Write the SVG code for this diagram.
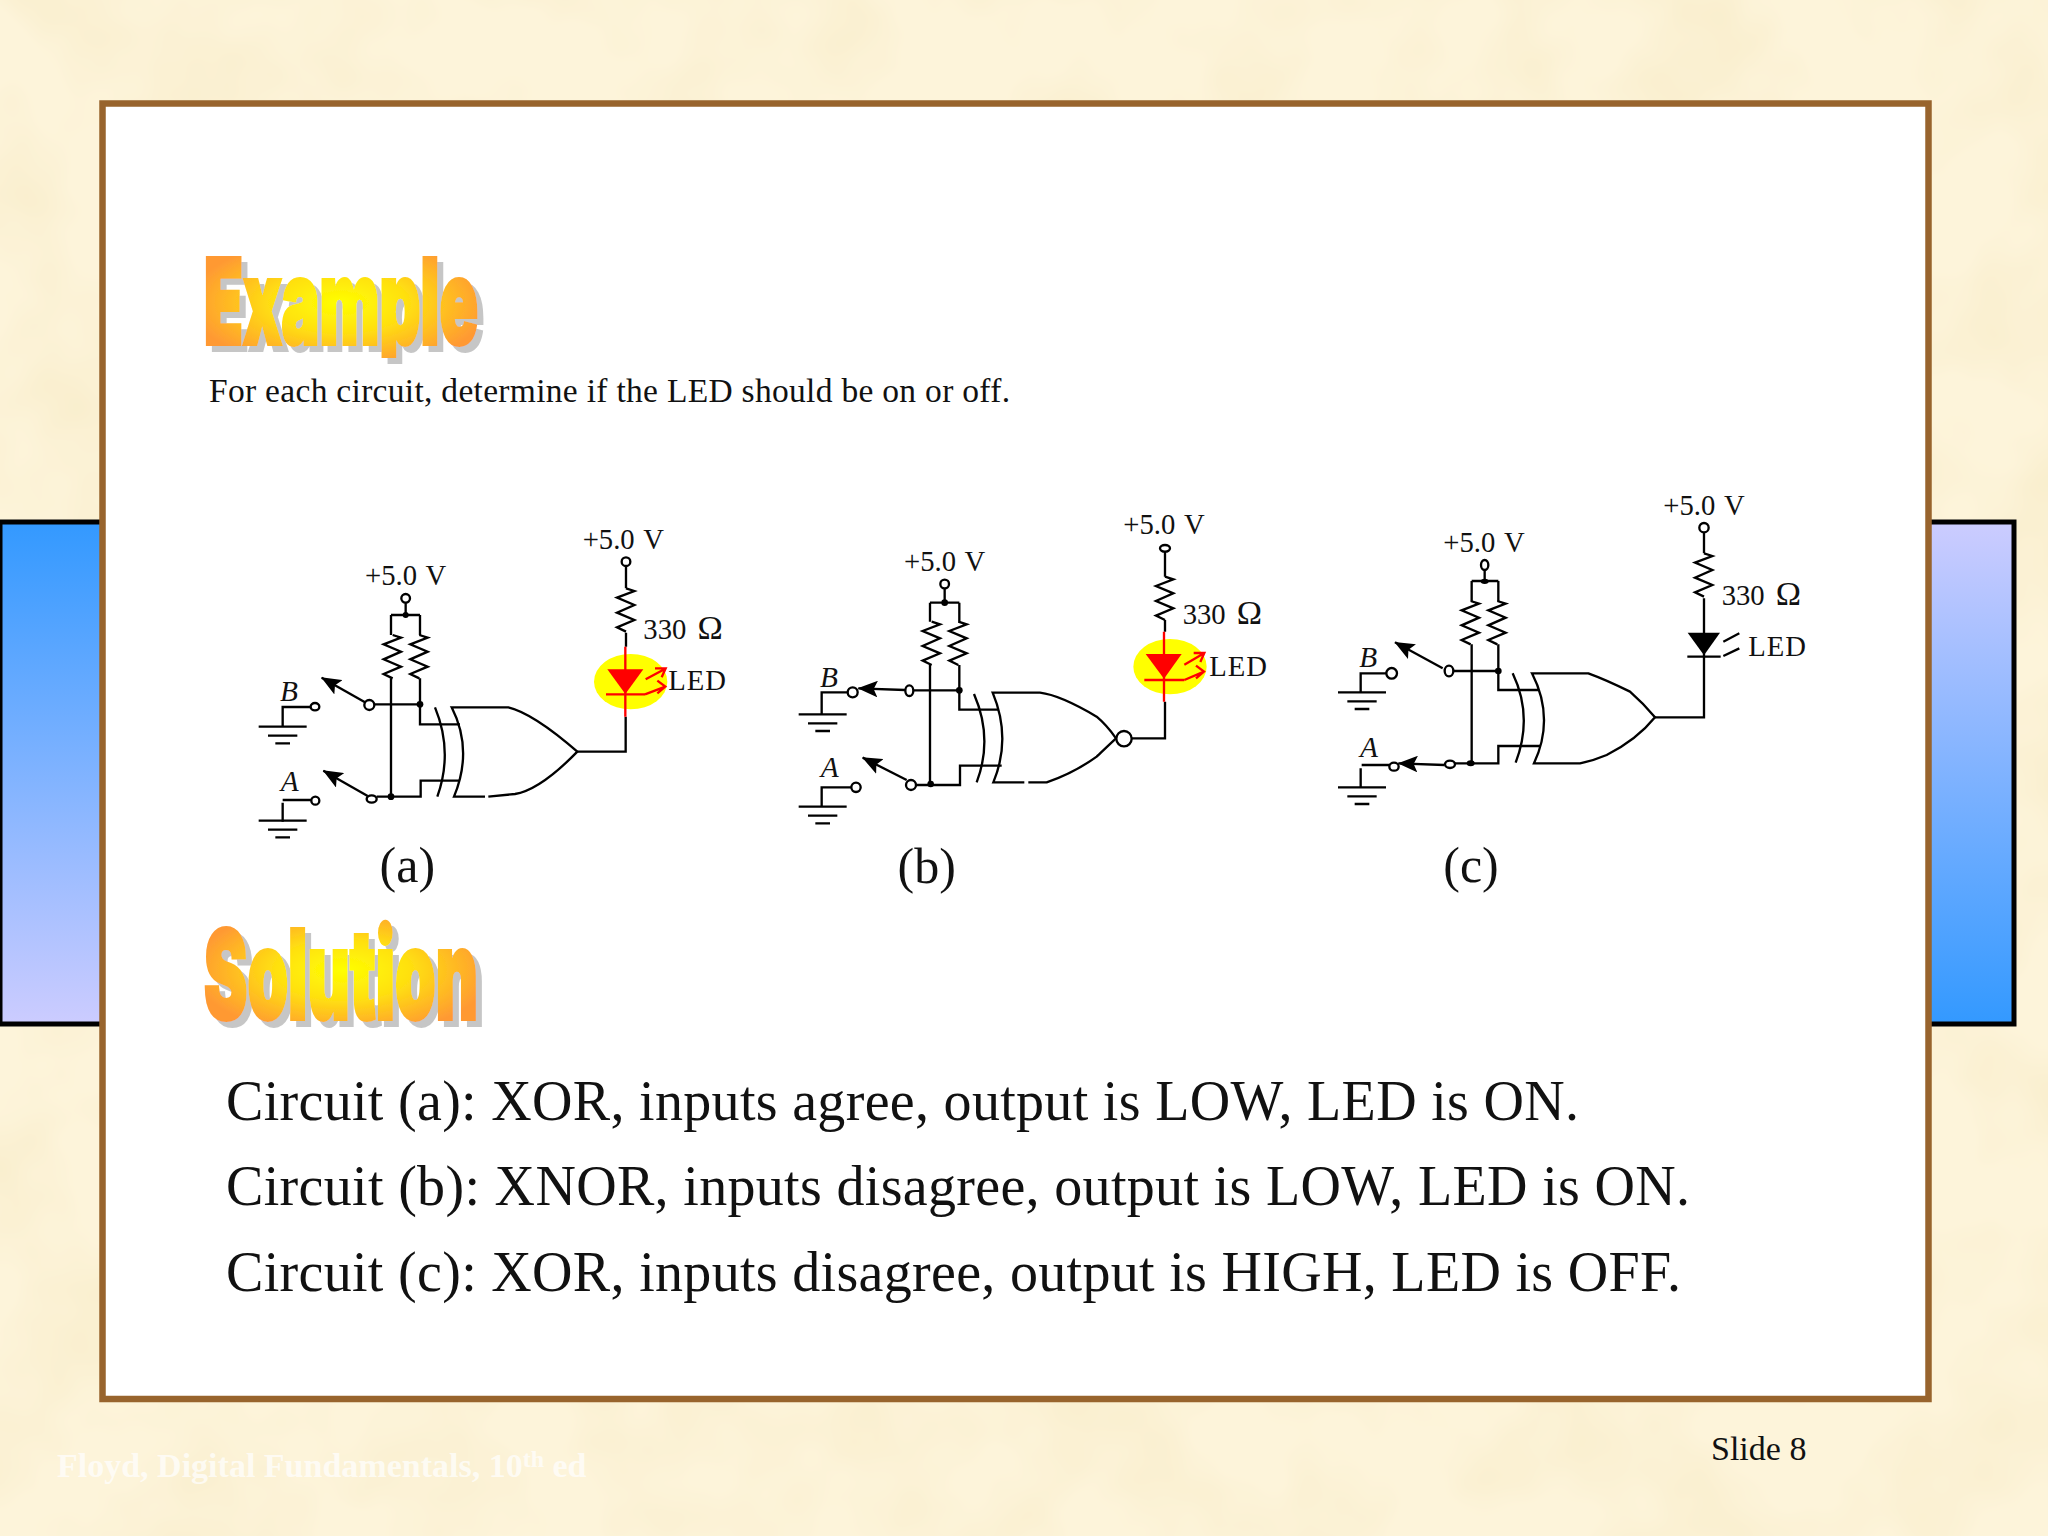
<svg xmlns="http://www.w3.org/2000/svg" width="2048" height="1536" viewBox="0 0 2048 1536">
<style>
.s{font-family:"Liberation Serif","Times New Roman",serif}
.w{fill:none;stroke:#000;stroke-width:7;stroke-linejoin:miter}
.r{fill:none;stroke:#f00;stroke-width:7}
.o{fill:#fff;stroke:#000;stroke-width:7}
.t{font-family:"Liberation Serif","Times New Roman",serif;font-size:86px;fill:#111}
.v{word-spacing:6px}
.i{font-family:"Liberation Serif","Times New Roman",serif;font-size:88px;font-style:italic;fill:#111}
.om{font-size:102px;font-family:"Liberation Serif","Times New Roman",serif}
.cap{font-family:"Liberation Serif","Times New Roman",serif;font-size:150px;fill:#111;text-anchor:middle}
.body{font-family:"Liberation Serif","Times New Roman",serif;font-size:56px;fill:#111}
.wa{font-family:Inter,"Liberation Sans",Arial,sans-serif;font-weight:900;stroke-width:4}
</style>
<defs>
<linearGradient id="gd" x1="0" y1="0" x2="0" y2="1"><stop offset="0" stop-color="#3399ff"/><stop offset="1" stop-color="#ccccff"/></linearGradient>
<linearGradient id="gu" x1="0" y1="0" x2="0" y2="1"><stop offset="0" stop-color="#ccccff"/><stop offset="1" stop-color="#3399ff"/></linearGradient>
<radialGradient id="wa1" gradientUnits="userSpaceOnUse" cx="0" cy="0" r="1" gradientTransform="translate(340 303) scale(150 66)"><stop offset="0" stop-color="#ffff00"/><stop offset=".45" stop-color="#ffe010"/><stop offset="1" stop-color="#ff9933"/></radialGradient>
<radialGradient id="wa2" gradientUnits="userSpaceOnUse" cx="0" cy="0" r="1" gradientTransform="translate(343 970) scale(150 66)"><stop offset="0" stop-color="#ffff00"/><stop offset=".45" stop-color="#ffe010"/><stop offset="1" stop-color="#ff9933"/></radialGradient>
<filter id="sh" x="-5%" y="-5%" width="115%" height="125%"><feDropShadow dx="6" dy="6" stdDeviation="0.6" flood-color="#c6c6c6"/></filter>
<filter id="tex" x="0" y="0" width="100%" height="100%"><feTurbulence type="fractalNoise" baseFrequency="0.008" numOctaves="3" seed="7"/><feColorMatrix type="matrix" values="0 0 0 0 0.95 0 0 0 0 0.86 0 0 0 0 0.62 0 0 0 2.2 -0.85"/></filter>
<clipPath id="cutp"><rect x="190" y="240" width="320" height="118"/></clipPath>
<marker id="ah" markerUnits="userSpaceOnUse" viewBox="0 0 60 50" markerWidth="60" markerHeight="50" refX="58" refY="25" orient="auto"><path d="M60,25 L0,0 L12,25 L0,50 Z" fill="#000"/></marker>
<path id="res" class="w" d="M0,0 L25,8 L-27,28 L25,50 L-27,73 L25,95 L-27,117 L0,130"/>
<g id="gnd"><path class="w" d="M-72,0 H72 M-44,27 H44 M-22,50 H22"/></g>
</defs>

<rect width="2048" height="1536" fill="#fdf4da"/>
<rect width="2048" height="1536" filter="url(#tex)"/>

<g id="side-bars">
<rect x="0" y="522" width="112" height="502" fill="url(#gd)" stroke="#000" stroke-width="5"/>
<rect x="1920" y="522" width="94" height="502" fill="url(#gu)" stroke="#000" stroke-width="5"/>
</g>
<rect id="frame" x="102.5" y="103.5" width="1826" height="1295.5" fill="#fff" stroke="#98642d" stroke-width="6.5"/>

<g id="title-example" filter="url(#sh)"><text class="wa" clip-path="url(#cutp)" x="204" y="344" font-size="118" textLength="274" lengthAdjust="spacingAndGlyphs" fill="url(#wa1)" stroke="url(#wa1)">Example</text></g>
<text id="question" class="s" x="209" y="402" font-size="33.5" fill="#111" textLength="801" lengthAdjust="spacing">For each circuit, determine if the LED should be on or off.</text>

<g id="circuit-a" transform="translate(240 500) scale(.33333)">
<ellipse cx="1172" cy="545" rx="110" ry="83" fill="#ffff00"/>
<g id="a-wires">
<path class="w" d="M1158,198 V265 M1158,398 V440 M1157,650 V755 H1012"/>
<path class="w" d="M497,308 V345 M453,345 H540 M453,345 V405 M540,345 V405 M453,535 V890 M540,535 V673 H660"/>
<path class="w" d="M403,613 H540 M410,890 H542 V842 H660"/>
<path class="w" d="M222,621 H128 V680 M225,900 H128 M128,908 V965"/>
<path class="w" marker-end="url(#ah)" d="M375,607 L245,533"/>
<path class="w" marker-end="url(#ah)" d="M383,888 L250,812"/>
</g>
<use href="#res" x="1158" y="265"/><use href="#res" x="458" y="405"/><use href="#res" x="538" y="405"/>
<use href="#gnd" x="128" y="680"/><use href="#gnd" x="128" y="962"/>
<circle class="o" cx="1158" cy="185" r="13"/><circle class="o" cx="497" cy="295" r="13"/>
<circle class="o" cx="388" cy="615" r="15"/><ellipse class="o" cx="225" cy="620" rx="13" ry="11"/>
<ellipse class="o" cx="395" cy="897" rx="15" ry="11"/><ellipse class="o" cx="226" cy="902" rx="12" ry="12"/>
<circle cx="497" cy="345" r="9"/><circle cx="540" cy="613" r="10"/><circle cx="453" cy="890" r="10"/>
<g id="a-gate"><path class="w" d="M585,622 Q640,755 592,890"/>
<path class="w" d="M735,890 H642 Q700,750 635,622 H805 Q880,640 1012,755 Q900,870 825,882 L745,890"/></g>
<g id="a-led"><path d="M1102,508 H1210 L1156,582 Z" fill="#f00"/>
<path class="r" d="M1156,440 V650 M1098,583 H1215"/>
<path class="r" d="M1217,538 L1276,506 M1245,505 H1277 L1265,532 M1215,583 L1276,560 M1252,542 L1276,560 L1252,580"/></g>
<text class="t v" x="1028" y="148">+5.0 V</text><text class="t v" x="375" y="255">+5.0 V</text>
<text class="t" x="1210" y="417" word-spacing="12">330 <tspan class="om">Ω</tspan></text><text class="t" x="1285" y="570" letter-spacing="3">LED</text>
<text class="i" x="120" y="603">B</text><text class="i" x="122" y="872">A</text>
<text class="cap" x="502" y="1145">(a)</text>
</g>

<g id="circuit-b" transform="translate(780 490) scale(.33333)">
<ellipse cx="1170" cy="530" rx="110" ry="83" fill="#ffff00"/>
<g id="b-wires">
<path class="w" d="M1155,185 V260 M1155,390 V425 M1155,635 V745 H1055"/>
<path class="w" d="M494,295 V338 M450,338 H538 M450,338 V395 M538,338 V395 M450,525 V885 M538,525 V659 H655"/>
<path class="w" d="M400,601 H538 M408,885 H540 V827 H665"/>
<path class="w" d="M205,607 H125 V672 M214,892 H125 V950"/>
<path class="w" marker-end="url(#ah)" d="M375,600 L235,595"/>
<path class="w" marker-end="url(#ah)" d="M380,870 L248,803"/>
</g>
<use href="#res" x="1155" y="260"/><use href="#res" x="455" y="395"/><use href="#res" x="535" y="395"/>
<use href="#gnd" x="128" y="673"/><use href="#gnd" x="128" y="950"/>
<ellipse class="o" cx="1155" cy="175" rx="15" ry="10"/><circle class="o" cx="494" cy="282" r="13"/>
<ellipse class="o" cx="388" cy="602" rx="12" ry="16"/><circle class="o" cx="218" cy="607" r="15"/>
<circle class="o" cx="393" cy="885" r="15"/><circle class="o" cx="228" cy="892" r="14"/>
<circle cx="494" cy="338" r="10"/><circle cx="538" cy="601" r="10"/><circle cx="452" cy="882" r="10"/>
<g id="b-gate"><path class="w" d="M582,612 Q640,745 590,877"/>
<path class="w" d="M733,877 H640 Q695,745 638,608 H780 Q840,615 950,680 Q980,705 1008,745 Q960,790 950,800 Q880,850 800,877 H745"/>
<circle class="o" cx="1032" cy="746" r="23"/></g>
<g id="b-led"><path d="M1097,492 H1205 L1152,566 Z" fill="#f00"/>
<path class="r" d="M1152,425 V635 M1093,570 H1213"/>
<path class="r" d="M1213,524 L1272,490 M1241,489 H1273 L1261,516 M1213,570 L1272,545 M1248,527 L1272,545 L1248,565"/></g>
<text class="t v" x="1030" y="133">+5.0 V</text><text class="t v" x="372" y="243">+5.0 V</text>
<text class="t" x="1208" y="403" word-spacing="12">330 <tspan class="om">Ω</tspan></text><text class="t" x="1288" y="557" letter-spacing="3">LED</text>
<text class="i" x="120" y="592">B</text><text class="i" x="122" y="860">A</text>
<text class="cap" x="440" y="1178">(b)</text>
</g>

<g id="circuit-c" transform="translate(1320 470) scale(.33333)">
<g id="c-wires">
<path class="w" d="M1152,187 V250 M1152,385 V742 H1005"/>
<path class="w" d="M494,300 V333 M455,333 H535 M455,333 V393 M535,333 V393 M455,523 V880 M535,523 V660 H655"/>
<path class="w" d="M400,603 H535 M405,880 H535 V828 H660"/>
<path class="w" d="M200,610 H122 V667 M125,885 H235 M122,895 V952"/>
<path class="w" marker-end="url(#ah)" d="M368,595 L225,517"/>
<path class="w" marker-end="url(#ah)" d="M373,885 L235,880"/>
</g>
<use href="#res" x="1152" y="250"/><use href="#res" x="452" y="393"/><use href="#res" x="532" y="393"/>
<use href="#gnd" x="126" y="667"/><use href="#gnd" x="126" y="952"/>
<circle class="o" cx="1152" cy="173" r="14"/><ellipse class="o" cx="494" cy="285" rx="11" ry="15"/>
<ellipse class="o" cx="387" cy="603" rx="13" ry="16"/><circle class="o" cx="215" cy="610" r="16"/>
<ellipse class="o" cx="390" cy="883" rx="15" ry="11"/><ellipse class="o" cx="222" cy="890" rx="14" ry="12"/>
<ellipse cx="494" cy="334" rx="12" ry="8"/><circle cx="535" cy="603" r="10"/><ellipse cx="452" cy="880" rx="12" ry="9"/>
<g id="c-gate"><path class="w" d="M578,610 Q640,740 587,878"/>
<path class="w" d="M642,880 Q705,745 636,610 H805 Q860,630 930,665 Q970,700 1005,742 Q950,810 860,855 Q820,872 780,880 Z"/></g>
<g id="c-led"><path d="M1103,488 H1200 L1152,556 Z" fill="#000"/><path class="w" d="M1102,560 H1202 M1210,515 L1258,490 M1210,558 L1258,535"/></g>
<text class="t v" x="1030" y="135">+5.0 V</text><text class="t v" x="370" y="245">+5.0 V</text>
<text class="t" x="1205" y="405" word-spacing="12">330 <tspan class="om">Ω</tspan></text><text class="t" x="1285" y="558" letter-spacing="3">LED</text>
<text class="i" x="118" y="592">B</text><text class="i" x="120" y="860">A</text>
<text class="cap" x="453" y="1236">(c)</text>
</g>

<g id="title-solution" filter="url(#sh)"><text class="wa" x="204" y="1019" font-size="124" textLength="274" lengthAdjust="spacingAndGlyphs" fill="url(#wa2)" stroke="url(#wa2)">Solution</text></g>
<g id="answers">
<text class="body" x="226" y="1120" textLength="1353" lengthAdjust="spacing">Circuit (a): XOR, inputs agree, output is LOW, LED is ON.</text>
<text class="body" x="226" y="1205" textLength="1464" lengthAdjust="spacing">Circuit (b): XNOR, inputs disagree, output is LOW, LED is ON.</text>
<text class="body" x="226" y="1291" textLength="1455" lengthAdjust="spacing">Circuit (c): XOR, inputs disagree, output is HIGH, LED is OFF.</text>
</g>
<text id="slide-number" class="s" x="1711" y="1460" font-size="34" fill="#111">Slide 8</text>
<text id="footer" class="s" x="57" y="1477" font-size="34" font-weight="bold" fill="#fff" fill-opacity=".72">Floyd, Digital Fundamentals, 10<tspan dy="-10" font-size="24">th</tspan><tspan dy="10"> ed</tspan></text>
</svg>
